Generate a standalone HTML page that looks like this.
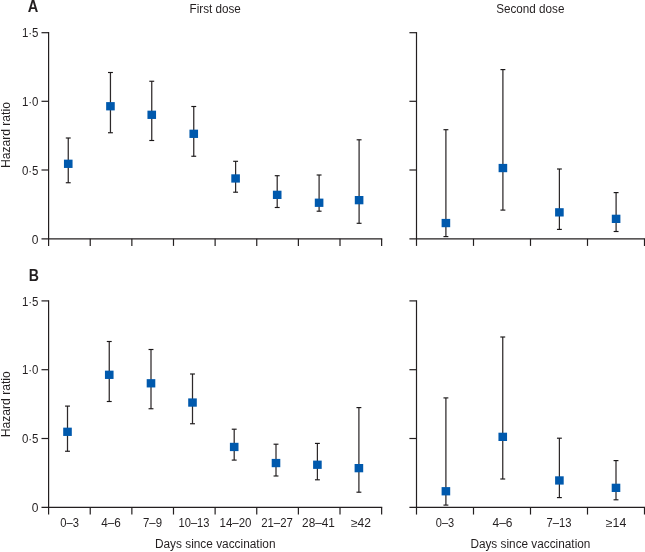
<!DOCTYPE html>
<html lang="en">
<head>
<meta charset="utf-8">
<title>Hazard ratio by days since vaccination</title>
<style>
html,body{margin:0;padding:0;background:#fff;}
body{width:645px;height:552px;overflow:hidden;}
svg{display:block;}
svg text{font-family:"Liberation Sans","DejaVu Sans",sans-serif;fill:#231f20;}
</style>
</head>
<body>
<svg width="645" height="552" viewBox="0 0 645 552">
<rect x="0" y="0" width="645" height="552" fill="#ffffff"/>
<line x1="48.60" y1="32.10" x2="48.60" y2="245.90" stroke="#231f20" stroke-width="1.2"/>
<line x1="41.50" y1="238.80" x2="382.24" y2="238.80" stroke="#231f20" stroke-width="1.2"/>
<line x1="41.50" y1="32.70" x2="48.60" y2="32.70" stroke="#231f20" stroke-width="1.2"/>
<line x1="41.50" y1="101.30" x2="48.60" y2="101.30" stroke="#231f20" stroke-width="1.2"/>
<line x1="41.50" y1="170.00" x2="48.60" y2="170.00" stroke="#231f20" stroke-width="1.2"/>
<line x1="90.23" y1="238.80" x2="90.23" y2="245.90" stroke="#231f20" stroke-width="1.2"/>
<line x1="131.86" y1="238.80" x2="131.86" y2="245.90" stroke="#231f20" stroke-width="1.2"/>
<line x1="173.49" y1="238.80" x2="173.49" y2="245.90" stroke="#231f20" stroke-width="1.2"/>
<line x1="215.12" y1="238.80" x2="215.12" y2="245.90" stroke="#231f20" stroke-width="1.2"/>
<line x1="256.75" y1="238.80" x2="256.75" y2="245.90" stroke="#231f20" stroke-width="1.2"/>
<line x1="298.38" y1="238.80" x2="298.38" y2="245.90" stroke="#231f20" stroke-width="1.2"/>
<line x1="340.01" y1="238.80" x2="340.01" y2="245.90" stroke="#231f20" stroke-width="1.2"/>
<line x1="381.64" y1="238.80" x2="381.64" y2="245.90" stroke="#231f20" stroke-width="1.2"/>
<line x1="416.50" y1="32.10" x2="416.50" y2="245.90" stroke="#231f20" stroke-width="1.2"/>
<line x1="409.40" y1="238.80" x2="645.10" y2="238.80" stroke="#231f20" stroke-width="1.2"/>
<line x1="409.40" y1="32.70" x2="416.50" y2="32.70" stroke="#231f20" stroke-width="1.2"/>
<line x1="409.40" y1="101.30" x2="416.50" y2="101.30" stroke="#231f20" stroke-width="1.2"/>
<line x1="409.40" y1="170.00" x2="416.50" y2="170.00" stroke="#231f20" stroke-width="1.2"/>
<line x1="473.50" y1="238.80" x2="473.50" y2="245.90" stroke="#231f20" stroke-width="1.2"/>
<line x1="530.50" y1="238.80" x2="530.50" y2="245.90" stroke="#231f20" stroke-width="1.2"/>
<line x1="587.50" y1="238.80" x2="587.50" y2="245.90" stroke="#231f20" stroke-width="1.2"/>
<line x1="644.50" y1="238.80" x2="644.50" y2="245.90" stroke="#231f20" stroke-width="1.2"/>
<line x1="48.60" y1="300.30" x2="48.60" y2="514.55" stroke="#231f20" stroke-width="1.2"/>
<line x1="41.50" y1="507.45" x2="382.24" y2="507.45" stroke="#231f20" stroke-width="1.2"/>
<line x1="41.50" y1="300.90" x2="48.60" y2="300.90" stroke="#231f20" stroke-width="1.2"/>
<line x1="41.50" y1="369.70" x2="48.60" y2="369.70" stroke="#231f20" stroke-width="1.2"/>
<line x1="41.50" y1="438.50" x2="48.60" y2="438.50" stroke="#231f20" stroke-width="1.2"/>
<line x1="90.23" y1="507.45" x2="90.23" y2="514.55" stroke="#231f20" stroke-width="1.2"/>
<line x1="131.86" y1="507.45" x2="131.86" y2="514.55" stroke="#231f20" stroke-width="1.2"/>
<line x1="173.49" y1="507.45" x2="173.49" y2="514.55" stroke="#231f20" stroke-width="1.2"/>
<line x1="215.12" y1="507.45" x2="215.12" y2="514.55" stroke="#231f20" stroke-width="1.2"/>
<line x1="256.75" y1="507.45" x2="256.75" y2="514.55" stroke="#231f20" stroke-width="1.2"/>
<line x1="298.38" y1="507.45" x2="298.38" y2="514.55" stroke="#231f20" stroke-width="1.2"/>
<line x1="340.01" y1="507.45" x2="340.01" y2="514.55" stroke="#231f20" stroke-width="1.2"/>
<line x1="381.64" y1="507.45" x2="381.64" y2="514.55" stroke="#231f20" stroke-width="1.2"/>
<line x1="416.50" y1="300.30" x2="416.50" y2="514.55" stroke="#231f20" stroke-width="1.2"/>
<line x1="409.40" y1="507.45" x2="645.10" y2="507.45" stroke="#231f20" stroke-width="1.2"/>
<line x1="409.40" y1="300.90" x2="416.50" y2="300.90" stroke="#231f20" stroke-width="1.2"/>
<line x1="409.40" y1="369.70" x2="416.50" y2="369.70" stroke="#231f20" stroke-width="1.2"/>
<line x1="409.40" y1="438.50" x2="416.50" y2="438.50" stroke="#231f20" stroke-width="1.2"/>
<line x1="473.50" y1="507.45" x2="473.50" y2="514.55" stroke="#231f20" stroke-width="1.2"/>
<line x1="530.50" y1="507.45" x2="530.50" y2="514.55" stroke="#231f20" stroke-width="1.2"/>
<line x1="587.50" y1="507.45" x2="587.50" y2="514.55" stroke="#231f20" stroke-width="1.2"/>
<line x1="644.50" y1="507.45" x2="644.50" y2="514.55" stroke="#231f20" stroke-width="1.2"/>
<line x1="68.25" y1="138.00" x2="68.25" y2="182.75" stroke="#2d292a" stroke-width="1.25"/>
<line x1="65.80" y1="138.00" x2="70.70" y2="138.00" stroke="#1a1718" stroke-width="1.15"/>
<line x1="65.80" y1="182.75" x2="70.70" y2="182.75" stroke="#1a1718" stroke-width="1.15"/>
<rect x="63.95" y="159.65" width="8.6" height="8.3" fill="#0059ad"/>
<line x1="110.45" y1="72.50" x2="110.45" y2="132.75" stroke="#2d292a" stroke-width="1.25"/>
<line x1="108.00" y1="72.50" x2="112.90" y2="72.50" stroke="#1a1718" stroke-width="1.15"/>
<line x1="108.00" y1="132.75" x2="112.90" y2="132.75" stroke="#1a1718" stroke-width="1.15"/>
<rect x="106.15" y="102.10" width="8.6" height="8.3" fill="#0059ad"/>
<line x1="151.75" y1="81.25" x2="151.75" y2="140.50" stroke="#2d292a" stroke-width="1.25"/>
<line x1="149.30" y1="81.25" x2="154.20" y2="81.25" stroke="#1a1718" stroke-width="1.15"/>
<line x1="149.30" y1="140.50" x2="154.20" y2="140.50" stroke="#1a1718" stroke-width="1.15"/>
<rect x="147.45" y="110.65" width="8.6" height="8.3" fill="#0059ad"/>
<line x1="193.75" y1="106.50" x2="193.75" y2="156.25" stroke="#2d292a" stroke-width="1.25"/>
<line x1="191.30" y1="106.50" x2="196.20" y2="106.50" stroke="#1a1718" stroke-width="1.15"/>
<line x1="191.30" y1="156.25" x2="196.20" y2="156.25" stroke="#1a1718" stroke-width="1.15"/>
<rect x="189.45" y="129.65" width="8.6" height="8.3" fill="#0059ad"/>
<line x1="235.60" y1="161.30" x2="235.60" y2="192.20" stroke="#2d292a" stroke-width="1.25"/>
<line x1="233.15" y1="161.30" x2="238.05" y2="161.30" stroke="#1a1718" stroke-width="1.15"/>
<line x1="233.15" y1="192.20" x2="238.05" y2="192.20" stroke="#1a1718" stroke-width="1.15"/>
<rect x="231.30" y="174.30" width="8.6" height="8.3" fill="#0059ad"/>
<line x1="277.20" y1="175.70" x2="277.20" y2="207.50" stroke="#2d292a" stroke-width="1.25"/>
<line x1="274.75" y1="175.70" x2="279.65" y2="175.70" stroke="#1a1718" stroke-width="1.15"/>
<line x1="274.75" y1="207.50" x2="279.65" y2="207.50" stroke="#1a1718" stroke-width="1.15"/>
<rect x="272.90" y="190.70" width="8.6" height="8.3" fill="#0059ad"/>
<line x1="319.10" y1="175.00" x2="319.10" y2="211.20" stroke="#2d292a" stroke-width="1.25"/>
<line x1="316.65" y1="175.00" x2="321.55" y2="175.00" stroke="#1a1718" stroke-width="1.15"/>
<line x1="316.65" y1="211.20" x2="321.55" y2="211.20" stroke="#1a1718" stroke-width="1.15"/>
<rect x="314.80" y="198.60" width="8.6" height="8.3" fill="#0059ad"/>
<line x1="359.10" y1="139.80" x2="359.10" y2="223.30" stroke="#2d292a" stroke-width="1.25"/>
<line x1="356.65" y1="139.80" x2="361.55" y2="139.80" stroke="#1a1718" stroke-width="1.15"/>
<line x1="356.65" y1="223.30" x2="361.55" y2="223.30" stroke="#1a1718" stroke-width="1.15"/>
<rect x="354.80" y="196.00" width="8.6" height="8.3" fill="#0059ad"/>
<line x1="445.90" y1="129.70" x2="445.90" y2="236.60" stroke="#2d292a" stroke-width="1.25"/>
<line x1="443.45" y1="129.70" x2="448.35" y2="129.70" stroke="#1a1718" stroke-width="1.15"/>
<line x1="443.45" y1="236.60" x2="448.35" y2="236.60" stroke="#1a1718" stroke-width="1.15"/>
<rect x="441.60" y="218.90" width="8.6" height="8.3" fill="#0059ad"/>
<line x1="502.90" y1="69.60" x2="502.90" y2="210.10" stroke="#2d292a" stroke-width="1.25"/>
<line x1="500.45" y1="69.60" x2="505.35" y2="69.60" stroke="#1a1718" stroke-width="1.15"/>
<line x1="500.45" y1="210.10" x2="505.35" y2="210.10" stroke="#1a1718" stroke-width="1.15"/>
<rect x="498.60" y="163.90" width="8.6" height="8.3" fill="#0059ad"/>
<line x1="559.40" y1="169.00" x2="559.40" y2="229.40" stroke="#2d292a" stroke-width="1.25"/>
<line x1="556.95" y1="169.00" x2="561.85" y2="169.00" stroke="#1a1718" stroke-width="1.15"/>
<line x1="556.95" y1="229.40" x2="561.85" y2="229.40" stroke="#1a1718" stroke-width="1.15"/>
<rect x="555.10" y="208.20" width="8.6" height="8.3" fill="#0059ad"/>
<line x1="616.10" y1="192.60" x2="616.10" y2="231.50" stroke="#2d292a" stroke-width="1.25"/>
<line x1="613.65" y1="192.60" x2="618.55" y2="192.60" stroke="#1a1718" stroke-width="1.15"/>
<line x1="613.65" y1="231.50" x2="618.55" y2="231.50" stroke="#1a1718" stroke-width="1.15"/>
<rect x="611.80" y="214.70" width="8.6" height="8.3" fill="#0059ad"/>
<line x1="67.50" y1="406.10" x2="67.50" y2="451.25" stroke="#2d292a" stroke-width="1.25"/>
<line x1="65.05" y1="406.10" x2="69.95" y2="406.10" stroke="#1a1718" stroke-width="1.15"/>
<line x1="65.05" y1="451.25" x2="69.95" y2="451.25" stroke="#1a1718" stroke-width="1.15"/>
<rect x="63.20" y="427.65" width="8.6" height="8.3" fill="#0059ad"/>
<line x1="109.25" y1="341.50" x2="109.25" y2="401.50" stroke="#2d292a" stroke-width="1.25"/>
<line x1="106.80" y1="341.50" x2="111.70" y2="341.50" stroke="#1a1718" stroke-width="1.15"/>
<line x1="106.80" y1="401.50" x2="111.70" y2="401.50" stroke="#1a1718" stroke-width="1.15"/>
<rect x="104.95" y="370.65" width="8.6" height="8.3" fill="#0059ad"/>
<line x1="151.00" y1="349.50" x2="151.00" y2="408.75" stroke="#2d292a" stroke-width="1.25"/>
<line x1="148.55" y1="349.50" x2="153.45" y2="349.50" stroke="#1a1718" stroke-width="1.15"/>
<line x1="148.55" y1="408.75" x2="153.45" y2="408.75" stroke="#1a1718" stroke-width="1.15"/>
<rect x="146.70" y="379.15" width="8.6" height="8.3" fill="#0059ad"/>
<line x1="192.50" y1="374.00" x2="192.50" y2="423.75" stroke="#2d292a" stroke-width="1.25"/>
<line x1="190.05" y1="374.00" x2="194.95" y2="374.00" stroke="#1a1718" stroke-width="1.15"/>
<line x1="190.05" y1="423.75" x2="194.95" y2="423.75" stroke="#1a1718" stroke-width="1.15"/>
<rect x="188.20" y="398.40" width="8.6" height="8.3" fill="#0059ad"/>
<line x1="234.20" y1="429.20" x2="234.20" y2="460.10" stroke="#2d292a" stroke-width="1.25"/>
<line x1="231.75" y1="429.20" x2="236.65" y2="429.20" stroke="#1a1718" stroke-width="1.15"/>
<line x1="231.75" y1="460.10" x2="236.65" y2="460.10" stroke="#1a1718" stroke-width="1.15"/>
<rect x="229.90" y="442.80" width="8.6" height="8.3" fill="#0059ad"/>
<line x1="276.00" y1="444.20" x2="276.00" y2="476.00" stroke="#2d292a" stroke-width="1.25"/>
<line x1="273.55" y1="444.20" x2="278.45" y2="444.20" stroke="#1a1718" stroke-width="1.15"/>
<line x1="273.55" y1="476.00" x2="278.45" y2="476.00" stroke="#1a1718" stroke-width="1.15"/>
<rect x="271.70" y="458.90" width="8.6" height="8.3" fill="#0059ad"/>
<line x1="317.40" y1="443.40" x2="317.40" y2="479.80" stroke="#2d292a" stroke-width="1.25"/>
<line x1="314.95" y1="443.40" x2="319.85" y2="443.40" stroke="#1a1718" stroke-width="1.15"/>
<line x1="314.95" y1="479.80" x2="319.85" y2="479.80" stroke="#1a1718" stroke-width="1.15"/>
<rect x="313.10" y="460.60" width="8.6" height="8.3" fill="#0059ad"/>
<line x1="358.90" y1="407.60" x2="358.90" y2="492.20" stroke="#2d292a" stroke-width="1.25"/>
<line x1="356.45" y1="407.60" x2="361.35" y2="407.60" stroke="#1a1718" stroke-width="1.15"/>
<line x1="356.45" y1="492.20" x2="361.35" y2="492.20" stroke="#1a1718" stroke-width="1.15"/>
<rect x="354.60" y="464.00" width="8.6" height="8.3" fill="#0059ad"/>
<line x1="445.90" y1="397.90" x2="445.90" y2="505.10" stroke="#2d292a" stroke-width="1.25"/>
<line x1="443.45" y1="397.90" x2="448.35" y2="397.90" stroke="#1a1718" stroke-width="1.15"/>
<line x1="443.45" y1="505.10" x2="448.35" y2="505.10" stroke="#1a1718" stroke-width="1.15"/>
<rect x="441.60" y="487.10" width="8.6" height="8.3" fill="#0059ad"/>
<line x1="502.75" y1="337.00" x2="502.75" y2="479.00" stroke="#2d292a" stroke-width="1.25"/>
<line x1="500.30" y1="337.00" x2="505.20" y2="337.00" stroke="#1a1718" stroke-width="1.15"/>
<line x1="500.30" y1="479.00" x2="505.20" y2="479.00" stroke="#1a1718" stroke-width="1.15"/>
<rect x="498.45" y="432.70" width="8.6" height="8.3" fill="#0059ad"/>
<line x1="559.40" y1="438.20" x2="559.40" y2="497.60" stroke="#2d292a" stroke-width="1.25"/>
<line x1="556.95" y1="438.20" x2="561.85" y2="438.20" stroke="#1a1718" stroke-width="1.15"/>
<line x1="556.95" y1="497.60" x2="561.85" y2="497.60" stroke="#1a1718" stroke-width="1.15"/>
<rect x="555.10" y="476.30" width="8.6" height="8.3" fill="#0059ad"/>
<line x1="616.00" y1="460.60" x2="616.00" y2="499.80" stroke="#2d292a" stroke-width="1.25"/>
<line x1="613.55" y1="460.60" x2="618.45" y2="460.60" stroke="#1a1718" stroke-width="1.15"/>
<line x1="613.55" y1="499.80" x2="618.45" y2="499.80" stroke="#1a1718" stroke-width="1.15"/>
<rect x="611.70" y="483.70" width="8.6" height="8.3" fill="#0059ad"/>
<text x="38.5" y="37.400000000000006" text-anchor="end" font-size="12" font-weight="normal" textLength="16.6" lengthAdjust="spacingAndGlyphs">1·5</text>
<text x="38.5" y="106.0" text-anchor="end" font-size="12" font-weight="normal" textLength="16.6" lengthAdjust="spacingAndGlyphs">1·0</text>
<text x="38.5" y="174.7" text-anchor="end" font-size="12" font-weight="normal" textLength="16.6" lengthAdjust="spacingAndGlyphs">0·5</text>
<text x="38.5" y="243.5" text-anchor="end" font-size="12" font-weight="normal">0</text>
<text x="38.5" y="305.59999999999997" text-anchor="end" font-size="12" font-weight="normal" textLength="16.6" lengthAdjust="spacingAndGlyphs">1·5</text>
<text x="38.5" y="374.4" text-anchor="end" font-size="12" font-weight="normal" textLength="16.6" lengthAdjust="spacingAndGlyphs">1·0</text>
<text x="38.5" y="443.2" text-anchor="end" font-size="12" font-weight="normal" textLength="16.6" lengthAdjust="spacingAndGlyphs">0·5</text>
<text x="38.5" y="512.15" text-anchor="end" font-size="12" font-weight="normal">0</text>
<text transform="translate(27.7,11.7) scale(0.86,1)" font-size="17" font-weight="bold">A</text>
<text transform="translate(28.8,280.8) scale(0.83,1)" font-size="17" font-weight="bold">B</text>
<text x="215.2" y="12.6" text-anchor="middle" font-size="12" font-weight="normal" textLength="51.3" lengthAdjust="spacingAndGlyphs">First dose</text>
<text x="530.3" y="12.6" text-anchor="middle" font-size="12" font-weight="normal" textLength="68.2" lengthAdjust="spacingAndGlyphs">Second dose</text>
<text transform="translate(9.8,135.1) rotate(-90)" text-anchor="middle" font-size="12" textLength="66" lengthAdjust="spacingAndGlyphs">Hazard ratio</text>
<text transform="translate(9.8,404.2) rotate(-90)" text-anchor="middle" font-size="12" textLength="66" lengthAdjust="spacingAndGlyphs">Hazard ratio</text>
<text x="69.7" y="527.2" text-anchor="middle" font-size="12" font-weight="normal" textLength="18.7" lengthAdjust="spacingAndGlyphs">0–3</text>
<text x="111.1" y="527.2" text-anchor="middle" font-size="12" font-weight="normal" textLength="19.6" lengthAdjust="spacingAndGlyphs">4–6</text>
<text x="152.5" y="527.2" text-anchor="middle" font-size="12" font-weight="normal" textLength="19" lengthAdjust="spacingAndGlyphs">7–9</text>
<text x="194" y="527.2" text-anchor="middle" font-size="12" font-weight="normal" textLength="30.9" lengthAdjust="spacingAndGlyphs">10–13</text>
<text x="235.5" y="527.2" text-anchor="middle" font-size="12" font-weight="normal" textLength="32" lengthAdjust="spacingAndGlyphs">14–20</text>
<text x="277" y="527.2" text-anchor="middle" font-size="12" font-weight="normal" textLength="31.6" lengthAdjust="spacingAndGlyphs">21–27</text>
<text x="318.5" y="527.2" text-anchor="middle" font-size="12" font-weight="normal" textLength="32.8" lengthAdjust="spacingAndGlyphs">28–41</text>
<text x="361" y="527.2" text-anchor="middle" font-size="12" font-weight="normal" textLength="20" lengthAdjust="spacingAndGlyphs">≥42</text>
<text x="445" y="527.2" text-anchor="middle" font-size="12" font-weight="normal" textLength="18.4" lengthAdjust="spacingAndGlyphs">0–3</text>
<text x="502.5" y="527.2" text-anchor="middle" font-size="12" font-weight="normal" textLength="20" lengthAdjust="spacingAndGlyphs">4–6</text>
<text x="558.9" y="527.2" text-anchor="middle" font-size="12" font-weight="normal" textLength="25" lengthAdjust="spacingAndGlyphs">7–13</text>
<text x="616.1" y="527.2" text-anchor="middle" font-size="12" font-weight="normal" textLength="20.5" lengthAdjust="spacingAndGlyphs">≥14</text>
<text x="215.2" y="548.2" text-anchor="middle" font-size="12" font-weight="normal" textLength="120.6" lengthAdjust="spacingAndGlyphs">Days since vaccination</text>
<text x="530.4" y="548.2" text-anchor="middle" font-size="12" font-weight="normal" textLength="120" lengthAdjust="spacingAndGlyphs">Days since vaccination</text>
</svg>
</body>
</html>
